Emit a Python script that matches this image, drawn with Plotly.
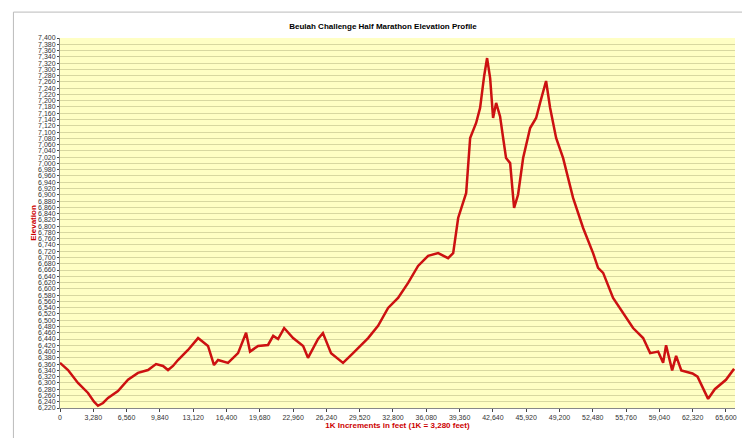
import plotly.graph_objects as go

# distance along course (feet) and elevation (feet)
distance = [0, 790, 1770, 2760, 3350, 3740, 4240, 4730, 5710, 6700, 7680, 8670, 9460,
            10150, 10640, 11130, 11620, 12610, 13600, 14090, 14580, 15170, 15570, 16550,
            17540, 18330, 18720, 19510, 20490, 21000, 21480, 22080, 22960, 23950, 24430,
            25420, 25900, 26700, 27880, 28870, 30350, 31330, 32320, 33300, 34290, 35270,
            36260, 37250, 38230, 38730, 39220, 40010, 40400, 40990, 41380, 41780, 42070,
            42370, 42660, 42960, 43350, 43650, 43940, 44340, 44730, 45120, 45620, 46310,
            46900, 47290, 47880, 48280, 48870, 49560, 50540, 51530, 52510, 53000, 53500,
            54480, 55470, 56450, 57440, 58130, 58920, 59410, 59700, 60300, 60690, 61200,
            62300, 62800, 63840, 64500, 65600, 66400]
elevation = [6364, 6341, 6300, 6268, 6240, 6227, 6236, 6252, 6274, 6310, 6332, 6341, 6360,
             6354, 6341, 6354, 6373, 6405, 6443, 6430, 6418, 6357, 6373, 6364,
             6395, 6460, 6400, 6418, 6421, 6450, 6440, 6475, 6443, 6418, 6380,
             6440, 6459, 6395, 6364, 6395, 6443, 6482, 6539, 6571, 6619, 6673,
             6705, 6714, 6698, 6714, 6826, 6906, 7081, 7129, 7177, 7279, 7336,
             7272, 7145, 7193, 7150, 7081, 7017, 7001, 6858, 6900, 7017, 7113,
             7145, 7193, 7263, 7177, 7081, 7017, 6890, 6794, 6714, 6667, 6651,
             6571, 6523, 6475, 6443, 6395, 6400, 6364, 6420, 6340, 6386, 6340,
             6330, 6320, 6249, 6280, 6310, 6345]
x_ticks = [i * 3280 for i in range(21)]
y_ticks = list(range(6220, 7401, 20))

fig = go.Figure()
fig.add_trace(go.Scatter(x=distance, y=elevation, mode='lines',
                         line=dict(color='#CC1111', width=2.5)))

fig.update_layout(
    width=750, height=438,
    paper_bgcolor='white', plot_bgcolor='#FFFFC4',
    margin=dict(l=52, r=23, t=30, b=38),
    showlegend=False,
    font=dict(family='Liberation Sans, Arial', size=7, color='#333'),
    title=dict(text='<b>Beulah Challenge Half Marathon Elevation Profile</b>',
               x=0.5, xanchor='center', y=0.965, font=dict(size=8, color='#000')),
    shapes=[dict(type='rect', xref='paper', yref='paper', x0=-0.069, x1=1.03, y0=-0.085, y1=1.07,
                 line=dict(color='#BBBBBB', width=1))],
)
fig.update_xaxes(range=[0, 66490], tickvals=x_ticks, automargin=False,
                 ticktext=[f'{v:,}' for v in x_ticks], showgrid=False,
                 showline=True, linecolor='#888', ticks='outside', ticklen=3,
                 zeroline=False,
                 title=dict(text='<b>1K Increments in feet (1K = 3,280 feet)</b>',
                            font=dict(size=8, color='#CC0000'), standoff=0))
fig.update_yaxes(range=[6220, 7400], tickvals=y_ticks, automargin=False,
                 ticktext=[f'{v:,}' for v in y_ticks], showgrid=True,
                 gridcolor='#D8D8A0', gridwidth=1, showline=True, linecolor='#888',
                 zeroline=False, ticks='outside', ticklen=2,
                 title=dict(text='<b>Elevation</b>', font=dict(size=8, color='#CC0000'),
                            standoff=0))

fig.write_html('out.html')
